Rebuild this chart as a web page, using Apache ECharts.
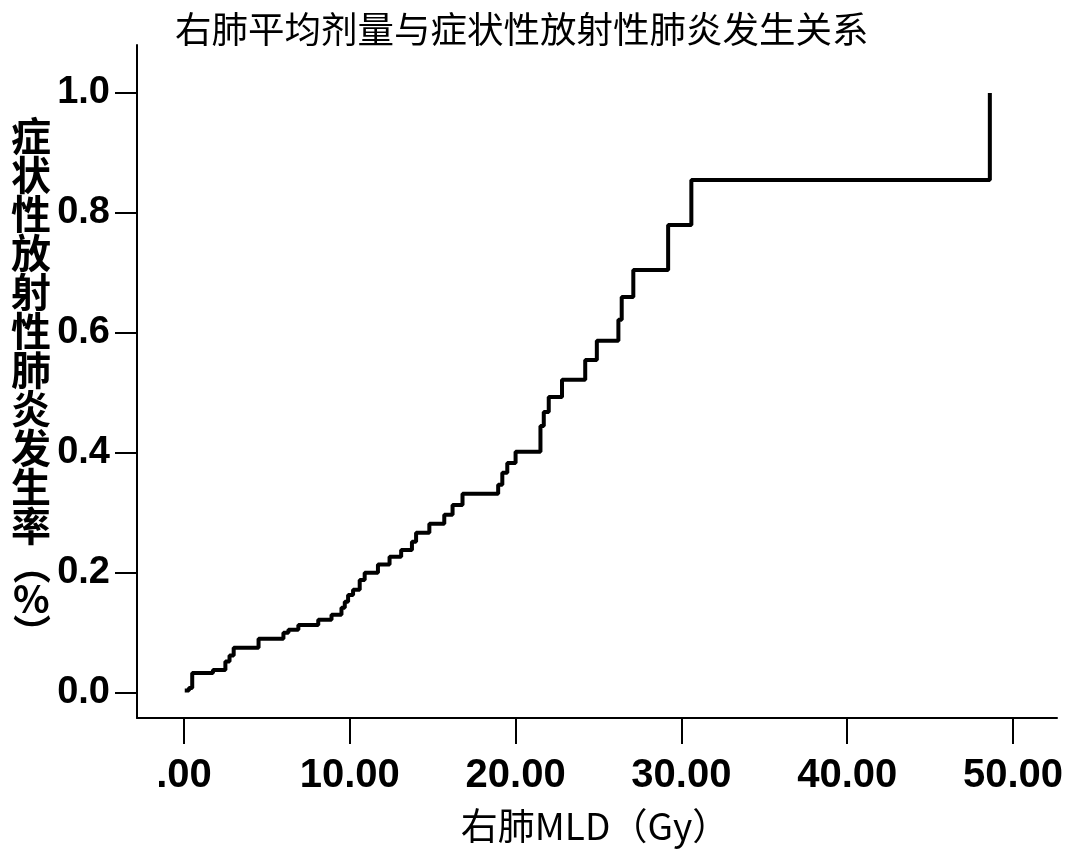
<!DOCTYPE html>
<html>
<head>
<meta charset="utf-8">
<script src="https://cdn.jsdelivr.net/npm/echarts@6/dist/echarts.min.js"></script>
<style>
html,body{margin:0;padding:0;background:#fff;}
#chart{width:1079px;height:856px;}
</style>
</head>
<body>
<div id="chart"></div>
<script>
// Step curve: right-lung MLD (Gy) where the cumulative rate jumps, and the new rate
const mldSteps = [0.05, 0.3, 0.5, 1.75, 2.5, 2.75, 3.0, 4.5, 6.0, 6.3, 6.9, 8.1, 8.9, 9.5, 9.7, 9.9, 10.2, 10.6, 10.9,
  11.7, 12.4, 13.1, 13.75, 14.0, 14.8, 15.7, 16.2, 16.8, 18.95, 19.2, 19.5, 20.0, 21.5, 21.7, 22.0, 22.8, 24.2, 24.9,
  26.2, 26.4, 27.1, 29.2, 30.6, 48.6];
const rateSteps = [0.004, 0.008, 0.033, 0.038, 0.052, 0.062, 0.075, 0.090, 0.100, 0.105, 0.113, 0.122, 0.130, 0.142, 0.152, 0.163, 0.172, 0.188, 0.200,
  0.214, 0.227, 0.238, 0.252, 0.267, 0.282, 0.297, 0.313, 0.332, 0.347, 0.367, 0.383, 0.402, 0.445, 0.468, 0.493, 0.522, 0.555, 0.587,
  0.622, 0.660, 0.705, 0.780, 0.855, 1.000];
const xTicks = [0, 10, 20, 30, 40, 50];
const yTicks = [0, 0.2, 0.4, 0.6, 0.8, 1.0];

const titleText = '右肺平均剂量与症状性放射性肺炎发生关系';
const xName = '右肺MLD（Gy）';
const yNameMain = ['症','状','性','放','射','性','肺','炎','发','生','率'];
const yNameUnit = ['︵','%','︶'];

const seriesData = mldSteps.map((x, i) => [x, rateSteps[i]]);

const chart = echarts.init(document.getElementById('chart'), null, {renderer: 'canvas'});
chart.setOption({
  backgroundColor: '#fff',
  animation: false,
  title: {
    text: titleText,
    left: 170,
    top: 6,
    textStyle: {fontFamily: 'Noto Sans CJK SC', fontSize: 36.5, fontWeight: 'normal', color: '#000'}
  },
  grid: {left: 137, right: 22, top: 45, bottom: 138, containLabel: false},
  xAxis: {
    type: 'value',
    min: -2.83,
    max: 52.65,
    name: xName,
    nameLocation: 'middle',
    nameGap: 89,
    nameTextStyle: {fontFamily: 'Noto Sans CJK SC', fontSize: 37, color: '#000', padding: [0, 4, 0, 0]},
    axisLine: {show: true, onZero: false, lineStyle: {color: '#000', width: 2}},
    axisTick: {show: true, customValues: xTicks, length: 26, inside: false, lineStyle: {color: '#000', width: 2}},
    axisLabel: {
      customValues: xTicks,
      margin: 38,
      fontFamily: 'Liberation Sans',
      fontSize: 40,
      fontWeight: 'bold',
      color: '#000',
      formatter: v => (v === 0 ? '.00' : v.toFixed(2))
    },
    splitLine: {show: false}
  },
  yAxis: {
    type: 'value',
    min: -0.042,
    max: 1.08,
    axisLine: {show: true, onZero: false, lineStyle: {color: '#000', width: 2}},
    axisTick: {show: true, customValues: yTicks, length: 22, inside: false, lineStyle: {color: '#000', width: 2}},
    axisLabel: {
      customValues: yTicks,
      margin: 27,
      fontFamily: 'Liberation Sans',
      fontSize: 38,
      fontWeight: 'bold',
      color: '#000',
      formatter: v => v.toFixed(1)
    },
    splitLine: {show: false}
  },
  graphic: [
    {
      type: 'text',
      left: 11,
      top: 116,
      style: {
        text: yNameMain.join('\n'),
        fontFamily: 'Noto Sans CJK SC',
        fontSize: 40,
        fontWeight: 'bold',
        lineHeight: 39,
        fill: '#000',
        align: 'left'
      }
    },
    {
      type: 'text',
      left: 13,
      top: 546,
      style: {
        text: yNameUnit.join('\n'),
        fontFamily: 'Noto Sans CJK SC',
        fontSize: 38,
        fontWeight: 'bold',
        lineHeight: 34,
        fill: '#000',
        align: 'center'
      }
    }
  ],
  series: [{
    type: 'line',
    step: 'end',
    data: seriesData,
    showSymbol: false,
    symbol: 'none',
    lineStyle: {color: '#000', width: 4},
    itemStyle: {color: '#000'}
  }]
});
</script>
</body>
</html>
